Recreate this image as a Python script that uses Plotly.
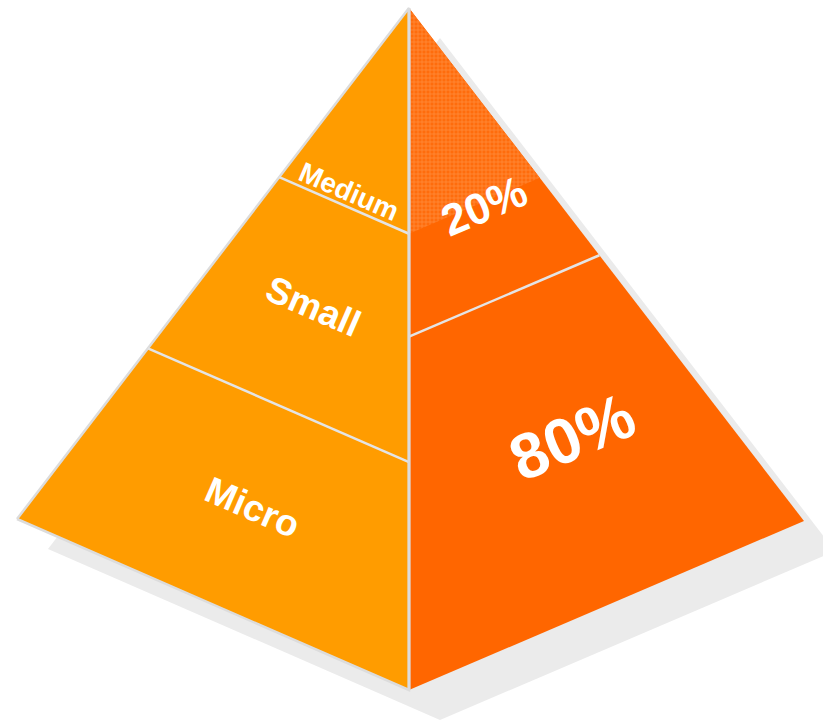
import plotly.graph_objects as go

# ---- data ----
tiers = ["Micro", "Small", "Medium"]            # left face, bottom to top
tier_bounds = [0.0, 0.334, 0.669, 1.0]          # fraction of height
shares = ["80%", "20%"]                          # right face, bottom to top
share_bounds = [0.0, 0.518, 1.0]

# ---- layout geometry (pixel space) ----
W, H = 823, 721
APEX = (409, 8)
LEFT = (17, 519)
FRONT = (409, 690)
RIGHT = (804, 521)
SHADOW = (31, 30)

LEFT_COLOR = "#FF9C00"
RIGHT_COLOR = "#FF6600"
SHADOW_COLOR = "#EBEBEB"
EDGE_COLOR = "#DCDCDC"
DIV_COLOR = "#E4E4E4"


def lerp(a, b, t):
    return (a[0] + (b[0] - a[0]) * t, a[1] + (b[1] - a[1]) * t)


def edge(base, t):
    return lerp(base, APEX, t)


def face_point(b1, b2, s, t):
    return lerp(edge(b1, t), edge(b2, t), s)


fig = go.Figure()


def poly(pts, color, pattern=None, line=None):
    xs = [p[0] for p in pts] + [pts[0][0]]
    ys = [p[1] for p in pts] + [pts[0][1]]
    kw = dict(x=xs, y=ys, mode="lines", fill="toself", fillcolor=color,
              line=line or dict(width=0, color=color), hoverinfo="skip",
              showlegend=False)
    if pattern:
        kw["fillpattern"] = pattern
    fig.add_trace(go.Scatter(**kw))


def seg(p, q, color, width):
    fig.add_trace(go.Scatter(x=[p[0], q[0]], y=[p[1], q[1]], mode="lines",
                             line=dict(color=color, width=width),
                             hoverinfo="skip", showlegend=False))


# shadow
sh = lambda p: (p[0] + SHADOW[0], p[1] + SHADOW[1])
poly([sh(LEFT), sh(APEX), sh(RIGHT), sh(FRONT)], SHADOW_COLOR)

# left face tiers
for i, name in enumerate(tiers):
    lo, hi = tier_bounds[i], tier_bounds[i + 1]
    poly([edge(LEFT, lo), edge(FRONT, lo), edge(FRONT, hi), edge(LEFT, hi)],
         LEFT_COLOR)

# right face shares
for i, name in enumerate(shares):
    lo, hi = share_bounds[i], share_bounds[i + 1]
    poly([edge(FRONT, lo), edge(RIGHT, lo), edge(RIGHT, hi), edge(FRONT, hi)],
         RIGHT_COLOR)

# hatched top of right face (above top tier line)
lo = tier_bounds[2]
poly([edge(FRONT, lo), edge(RIGHT, lo), APEX],
     "#FF7010",
     pattern=dict(shape="+", size=4, solidity=0.35,
                  fgcolor="#FF8A3A", bgcolor="#FF6C0C", fillmode="replace"))

# outline of left face
poly([LEFT, APEX, FRONT], "rgba(0,0,0,0)", line=dict(color=EDGE_COLOR, width=2.5))

# dividers
for b in tier_bounds[1:-1]:
    seg(edge(LEFT, b), edge(FRONT, b), DIV_COLOR, 2.5)
for b in share_bounds[1:-1]:
    seg(edge(FRONT, b), edge(RIGHT, b), DIV_COLOR, 2.5)

# central edge
seg(FRONT, APEX, EDGE_COLOR, 3)

# labels
FONT = "Liberation Sans, Arial, sans-serif"
left_label_pos = [(0.52, 0.5), (0.51, 0.5), (0.50, 0.07)]   # (s, frac within tier)
left_sizes = [37, 37, 28]
for i, name in enumerate(tiers):
    s, f = left_label_pos[i]
    t = tier_bounds[i] + f * (tier_bounds[i + 1] - tier_bounds[i])
    x, y = face_point(LEFT, FRONT, s, t)
    fig.add_annotation(x=x, y=y, text="<b>%s</b>" % name, showarrow=False,
                       textangle=23.5, font=dict(family=FONT, size=left_sizes[i],
                                                 color="white"),
                       xanchor="center", yanchor="middle")

right_label_pos = [(0.565, 0.52), (0.565, 0.30)]
right_sizes = [64, 44]
for i, name in enumerate(shares):
    s, f = right_label_pos[i]
    t = share_bounds[i] + f * (share_bounds[i + 1] - share_bounds[i])
    x, y = face_point(FRONT, RIGHT, s, t)
    fig.add_annotation(x=x, y=y, text="<b>%s</b>" % name, showarrow=False,
                       textangle=-23, font=dict(family=FONT, size=right_sizes[i],
                                                color="white"),
                       xanchor="center", yanchor="middle")

fig.update_layout(
    width=W, height=H, margin=dict(l=0, r=0, t=0, b=0),
    paper_bgcolor="white", plot_bgcolor="white",
    xaxis=dict(range=[0, W], visible=False, fixedrange=True),
    yaxis=dict(range=[H, 0], visible=False, fixedrange=True),
    showlegend=False,
)

fig.write_html("out.html", config={"displayModeBar": False},
               post_script="document.body.style.margin='0';"
                           "document.body.style.overflow='hidden';")
